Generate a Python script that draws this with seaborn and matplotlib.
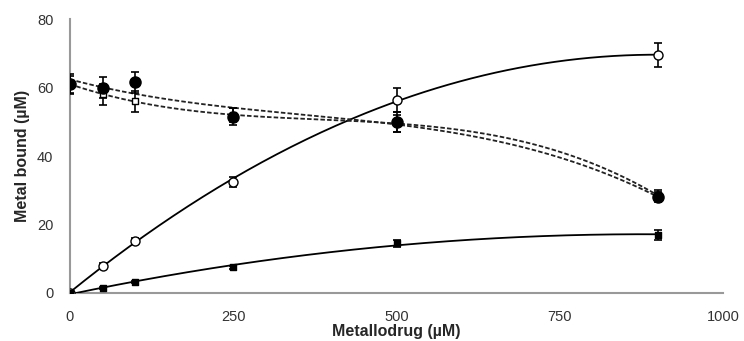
import numpy as np
import pandas as pd
import matplotlib
matplotlib.use("Agg")
import matplotlib.pyplot as plt
import seaborn as sns

sns.set_style("white")
plt.rcParams['font.family'] = ['Liberation Sans', 'DejaVu Sans']

# concentrations of metallodrug (uM)
conc = [0, 50, 100, 250, 500, 900]

# solid trends (rising)
open_circle = [0, 8, 15.2, 32.5, 56.5, 69.5]
open_circle_err = [0.5, 0.6, 0.8, 1.5, 3.5, 3.5]
filled_square = [0, 1.5, 3.2, 7.5, 14.5, 17]
filled_square_err = [0.3, 0.3, 0.4, 0.5, 1.0, 1.5]

# dashed trends (falling)
filled_circle = [61, 60, 61.5, 51.5, 50, 28]
filled_circle_err = [3, 3, 3, 2.5, 3, 1.5]
open_square = [61, 58, 56, 52, 49.5, 28.5]
open_square_err = [2.5, 3, 3, 2, 2.5, 1.5]

xticks = [0, 250, 500, 750, 1000]
yticks = [0, 20, 40, 60, 80]

fig = plt.figure(figsize=(7.44, 3.41), dpi=100)
ax = fig.add_axes([0.094, 0.141, 0.878, 0.803])

xs = np.linspace(0, 900, 200)

def trend(y, deg, ls, color='black'):
    coef = np.polyfit(conc, y, deg)
    d = pd.DataFrame({'x': xs, 'y': np.polyval(coef, xs)})
    sns.lineplot(data=d, x='x', y='y', ax=ax, color=color, linestyle=ls, lw=1.3)

trend(open_circle, 2, '-')
trend(filled_square, 2, '-')
trend(filled_circle, 3, (0, (2.5, 1.2)), '#222222')
trend(open_square, 3, (0, (2.5, 1.2)), '#222222')

series = [
    (open_square, open_square_err, 's', 'white', 5),
    (filled_circle, filled_circle_err, 'o', 'black', 8),
    (open_circle, open_circle_err, 'o', 'white', 6.5),
    (filled_square, filled_square_err, 's', 'black', 5),
]
for y, e, m, fc, ms in series:
    ax.errorbar(conc, y, yerr=e, fmt='none', ecolor='black', elinewidth=1.2,
                capsize=3, capthick=1.2, zorder=3)
    d = pd.DataFrame({'x': conc, 'y': y})
    sns.scatterplot(data=d, x='x', y='y', ax=ax, marker=m, s=ms**2,
                    color=fc, edgecolor='black', linewidth=1, zorder=4)

ax.set_xlim(0, 1000)
ax.set_ylim(0, 80)
ax.set_xticks(xticks)
ax.set_yticks(yticks)
ax.tick_params(axis='both', direction='out', length=4, color='#999999',
               labelsize=10.5, labelcolor='#333333', width=1.2)
ax.tick_params(axis='x', pad=8)
ax.tick_params(axis='y', pad=8)
for s in ['top', 'right']:
    ax.spines[s].set_visible(False)
for s in ['left', 'bottom']:
    ax.spines[s].set_color('#999999')
    ax.spines[s].set_linewidth(1.5)
    ax.spines[s].set_zorder(1)

ax.set_xlabel('Metallodrug (\u00b5M)', fontsize=11.5, fontweight='bold', labelpad=0)
ax.set_ylabel('Metal bound (\u00b5M)', fontsize=11.5, fontweight='bold', labelpad=5)

fig.savefig('out.png', dpi=100)
